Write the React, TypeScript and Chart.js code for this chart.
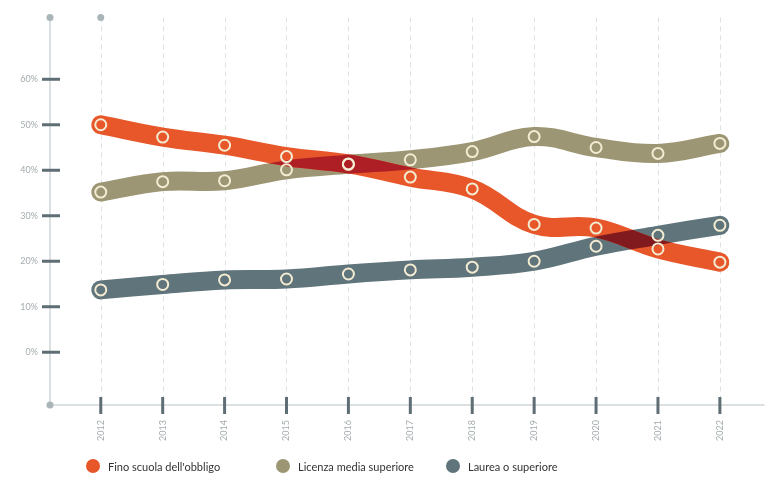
import React, { useEffect, useRef } from "react";
import { Chart, registerables } from "chart.js";

Chart.register(...registerables);

const years = [2012, 2013, 2014, 2015, 2016, 2017, 2018, 2019, 2020, 2021, 2022];
const yearLabels = ["2012", "2013", "2014", "2015", "2016", "2017", "2018", "2019", "2020", "2021", "2022"];
const yTicks = [0, 10, 20, 30, 40, 50, 60];

const seriesNames = ["Fino scuola dell'obbligo", "Licenza media superiore", "Laurea o superiore"];
const finoScuola = [50.0, 47.3, 45.5, 43.0, 41.4, 38.5, 35.9, 28.1, 27.3, 22.7, 19.8];
const licenzaMedia = [35.2, 37.5, 37.7, 40.1, 41.3, 42.3, 44.1, 47.4, 45.0, 43.7, 45.9];
const laurea = [13.7, 14.9, 15.9, 16.1, 17.2, 18.1, 18.7, 20.0, 23.3, 25.7, 27.9];
const seriesColors = ["#e8572a", "#9d9674", "#5f747b"];
// colour where the first band crosses the 2nd / 3rd band
const overlapColors = [null, "#ad1f24", "#801a1f"];

const POINT_RING = "#f3ebd2";
const AXIS_LIGHT = "#cfd7d9";
const AXIS_DARK = "#5e6e74";
const GRID = "#dde2e3";
const DOT = "#a9b5b8";

export default function App() {
  const ref = useRef<HTMLCanvasElement | null>(null);

  useEffect(() => {
    if (!ref.current) return;
    const allSeries = [finoScuola, licenzaMedia, laurea];
    const toPts = (vals: number[]) => years.map((x, i) => ({ x, y: vals[i] }));

    const lineSets = allSeries.map((vals, i) => ({
      type: "line" as const,
      label: seriesNames[i],
      data: toPts(vals),
      borderColor: seriesColors[i],
      backgroundColor: seriesColors[i],
      borderWidth: 19,
      borderCapStyle: "round" as const,
      borderJoinStyle: "round" as const,
      tension: 0.4,
      pointRadius: 0,
      pointHoverRadius: 0,
      fill: false,
      order: 1,
      bandIndex: i,
    }));
    const pointSets = allSeries.map((vals, i) => ({
      type: "line" as const,
      label: seriesNames[i] + " pts",
      data: toPts(vals),
      showLine: false,
      pointRadius: 5.5,
      pointHoverRadius: 5.5,
      pointBorderWidth: 2,
      pointBorderColor: POINT_RING,
      pointBackgroundColor: "rgba(0,0,0,0)",
      borderColor: POINT_RING,
      backgroundColor: "rgba(0,0,0,0)",
      order: 0,
      bandIndex: -1,
    }));

    const overlapPlugin = {
      id: "bandOverlap",
      afterDatasetDraw(chart: any, args: any) {
        const ds = chart.data.datasets[args.index];
        if (ds.bandIndex !== 0) return;
        const topEl = chart.getDatasetMeta(args.index).dataset;
        const dpr = chart.currentDevicePixelRatio || 1;
        const w = chart.canvas.width;
        const h = chart.canvas.height;
        const off = document.createElement("canvas");
        off.width = w;
        off.height = h;
        const octx = off.getContext("2d") as CanvasRenderingContext2D;
        chart.data.datasets.forEach((other: any, idx: number) => {
          if (other.bandIndex <= 0) return;
          const color = overlapColors[other.bandIndex];
          if (!color) return;
          const otherEl = chart.getDatasetMeta(idx).dataset;
          octx.setTransform(1, 0, 0, 1, 0, 0);
          octx.globalCompositeOperation = "source-over";
          octx.clearRect(0, 0, w, h);
          octx.setTransform(dpr, 0, 0, dpr, 0, 0);
          otherEl.draw(octx, chart.chartArea);
          octx.globalCompositeOperation = "source-in";
          topEl.draw(octx, chart.chartArea);
          octx.globalCompositeOperation = "source-in";
          octx.fillStyle = color;
          octx.fillRect(0, 0, w, h);
          chart.ctx.drawImage(off, 0, 0, w / dpr, h / dpr);
        });
      },
    };

    const decorPlugin = {
      id: "axisDecor",
      beforeDatasetsDraw(chart: any) {
        const { ctx, chartArea } = chart;
        const xs = chart.scales.x;
        const ys = chart.scales.y;
        const ax = chartArea.left;
        const ay = chartArea.bottom;
        ctx.save();
        // dashed vertical grid lines
        ctx.strokeStyle = GRID;
        ctx.lineWidth = 1;
        ctx.setLineDash([5, 4]);
        years.forEach((v) => {
          const px = Math.round(xs.getPixelForValue(v)) + 0.5;
          ctx.beginPath();
          ctx.moveTo(px, chartArea.top);
          ctx.lineTo(px, ay);
          ctx.stroke();
        });
        ctx.setLineDash([]);
        // axis lines
        ctx.strokeStyle = AXIS_LIGHT;
        ctx.lineWidth = 1.5;
        ctx.beginPath();
        ctx.moveTo(ax, chartArea.top);
        ctx.lineTo(ax, ay);
        ctx.lineTo(chartArea.right + 5, ay);
        ctx.stroke();
        // y tick marks
        ctx.strokeStyle = AXIS_DARK;
        ctx.lineWidth = 3;
        yTicks.forEach((v) => {
          const py = ys.getPixelForValue(v);
          ctx.beginPath();
          ctx.moveTo(ax - 8, py);
          ctx.lineTo(ax + 10, py);
          ctx.stroke();
        });
        // x tick marks
        years.forEach((v) => {
          const px = xs.getPixelForValue(v);
          ctx.beginPath();
          ctx.moveTo(px, ay - 8);
          ctx.lineTo(px, ay + 9);
          ctx.stroke();
        });
        // dots
        ctx.fillStyle = DOT;
        const dots = [
          [ax, chartArea.top],
          [ax, ay],
          [xs.getPixelForValue(years[0]), chartArea.top],
        ];
        dots.forEach(([dx, dy]) => {
          ctx.beginPath();
          ctx.arc(dx, dy, 3.5, 0, Math.PI * 2);
          ctx.fill();
        });
        ctx.restore();
      },
      afterDraw(chart: any) {
        const { ctx } = chart;
        const legendX = [93, 283, 453];
        const ly = 466;
        ctx.save();
        ctx.font = "11px Lato";
        ctx.textBaseline = "middle";
        ctx.textAlign = "left";
        seriesNames.forEach((name, i) => {
          ctx.fillStyle = seriesColors[i];
          ctx.beginPath();
          ctx.arc(legendX[i], ly, 7, 0, Math.PI * 2);
          ctx.fill();
          ctx.fillStyle = "#333333";
          ctx.fillText(name, legendX[i] + 15, ly + 1);
        });
        ctx.restore();
      },
    };

    const chart = new Chart(ref.current, {
      type: "line",
      data: { datasets: [...pointSets, ...lineSets] as any },
      options: {
        animation: false,
        responsive: true,
        maintainAspectRatio: false,
        layout: { padding: { top: 16, right: 5, bottom: 0, left: 0 } },
        plugins: {
          legend: { display: false },
          tooltip: { enabled: false },
        },
        scales: {
          x: {
            type: "linear",
            min: 2011.18,
            max: 2022.64,
            afterFit: (s: any) => {
              s.height = 72;
            },
            afterBuildTicks: (s: any) => {
              s.ticks = years.map((v) => ({ value: v }));
            },
            grid: { display: false, drawTicks: false },
            border: { display: false },
            ticks: {
              minRotation: 90,
              maxRotation: 90,
              padding: 15,
              color: "#a3abae",
              font: { size: 9, family: "Lato" },
              callback: (v: any) => yearLabels[years.indexOf(Number(v))] ?? "",
            },
          },
          y: {
            min: -11.6,
            max: 73.6,
            afterFit: (s: any) => {
              s.width = 50;
            },
            afterBuildTicks: (s: any) => {
              s.ticks = yTicks.map((v) => ({ value: v }));
            },
            grid: { display: false, drawTicks: false },
            border: { display: false },
            ticks: {
              padding: 12,
              color: "#a3abae",
              font: { size: 9, family: "Lato" },
              callback: (v: any) => `${v}%`,
            },
          },
        },
      },
      plugins: [overlapPlugin, decorPlugin],
    });
    return () => chart.destroy();
  }, []);

  return (
    <div style={{ position: "fixed", left: 0, top: 0, width: 767, height: 477, background: "#ffffff" }}>
      <canvas ref={ref} />
    </div>
  );
}
